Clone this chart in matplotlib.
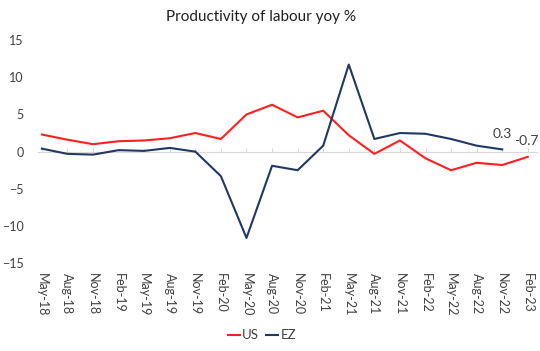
import matplotlib.pyplot as plt
import numpy as np

plt.rcParams['font.family'] = ['Lato', 'DejaVu Sans']

months = ['May-18', 'Aug-18', 'Nov-18', 'Feb-19', 'May-19', 'Aug-19', 'Nov-19',
          'Feb-20', 'May-20', 'Aug-20', 'Nov-20', 'Feb-21', 'May-21', 'Aug-21',
          'Nov-21', 'Feb-22', 'May-22', 'Aug-22', 'Nov-22', 'Feb-23']
us = [2.3, 1.6, 1.0, 1.4, 1.5, 1.8, 2.5, 1.7, 5.0, 6.3,
      4.6, 5.5, 2.2, -0.3, 1.5, -0.9, -2.5, -1.5, -1.8, -0.7]
ez = [0.4, -0.3, -0.4, 0.2, 0.1, 0.5, 0.0, -3.3, -11.6, -1.9,
      -2.5, 0.8, 11.7, 1.7, 2.5, 2.4, 1.7, 0.8, 0.3]

x = np.arange(len(months))

fig = plt.figure(figsize=(5.4, 3.51), dpi=100)
ax = fig.add_axes([0.070, 0.250, 0.924, 0.636])

# zero line with small ticks
sec = ax.secondary_xaxis(0.5)
sec.set_xticks(x)
sec.set_xticklabels([])
sec.tick_params(length=3, color='#d9d9d9', width=0.8)
for s in sec.spines.values():
    s.set_color('#d9d9d9')
    s.set_linewidth(0.8)

ax.plot(x, us, color='#ff1f1f', lw=1.5, label='US', zorder=3)
ax.plot(x[:len(ez)], ez, color='#1f3864', lw=1.5, label='EZ', zorder=3)

ax.set_xlim(-0.16, 19.35)
ax.set_ylim(-15, 15)
ax.set_yticks(np.arange(-15, 16, 5))
ax.set_xticks(x)
ax.set_xticklabels(months, rotation=-90)
ax.tick_params(axis='x', length=0, pad=7, labelsize=9, colors='#404040')
ax.tick_params(axis='y', length=0, pad=10, labelsize=9, colors='#404040')
for s in ax.spines.values():
    s.set_visible(False)

ax.annotate(f'{ez[-1]:.1f}', (x[len(ez) - 1], ez[-1]), xytext=(0, 7),
            textcoords='offset points', ha='center', va='bottom',
            fontsize=10, color='#404040')
ax.annotate(f'{us[-1]:.1f}', (x[-1], us[-1]), xytext=(-1, 7),
            textcoords='offset points', ha='center', va='bottom',
            fontsize=10, color='#404040')

fig.text(0.483, 0.952, 'Productivity of labour yoy %', ha='center', va='center',
         fontsize=11, color='#202020')

fig.legend(loc='center', bbox_to_anchor=(0.485, 0.045), ncol=2, frameon=False,
           fontsize=9.5, handlelength=0.9, handletextpad=0.2, columnspacing=0.5,
           labelcolor='#404040')

fig.savefig('out.png', dpi=100)
